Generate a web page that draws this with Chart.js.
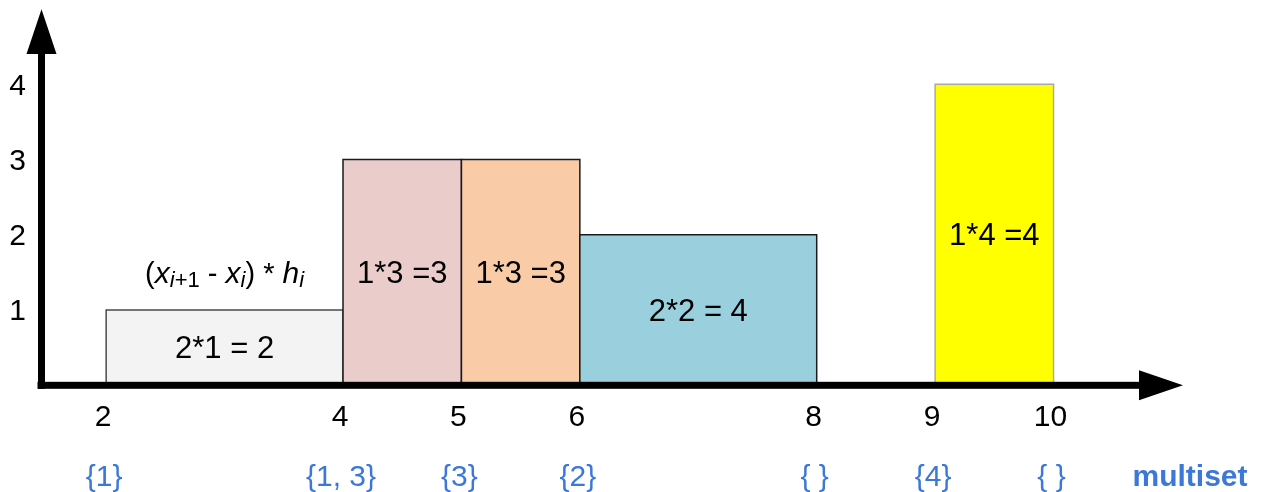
<!DOCTYPE html>
<html>
<head>
<meta charset="utf-8">
<script src="https://cdn.jsdelivr.net/npm/chart.js@4.4.1/dist/chart.umd.min.js"></script>
<style>
  html, body { margin: 0; padding: 0; background: #ffffff; }
  #wrap { width: 1264px; height: 492px; }
</style>
</head>
<body>
<div id="wrap"><canvas id="c" width="1264" height="492"></canvas></div>
<script>
// ---- data ----
const xBreaks = [2, 4, 5, 6, 8, 9, 10];
const heights = [1, 3, 3, 2, 0, 4];
const areaLabels = ['2*1 = 2', '1*3 =3', '1*3 =3', '2*2 = 4', '', '1*4 =4'];
const xTickLabels = ['2', '4', '5', '6', '8', '9', '10'];
const multisetLabels = ['{1}', '{1, 3}', '{3}', '{2}', '{ }', '{4}', '{ }'];
const yTickValues = [1, 2, 3, 4];
const yTickLabels = ['1', '2', '3', '4'];
const axisTitle = 'multiset';

// ---- styles ----
const fills = ['#f3f3f3', '#eacdcb', '#f9cba7', '#9ad0dd', '#ffffff', '#ffff00'];
const borders = ['#4a4a4a', '#1a1a1a', '#1a1a1a', '#1a1a1a', '#b0b0b0', '#aaaaaa'];
const FONT = '"Liberation Sans", Arial, sans-serif';
const BLUE = '#3c78d8';

const datasets = heights.map((h, i) => ({
  data: [
    { x: xBreaks[i], y: 0 },
    { x: xBreaks[i], y: h },
    { x: xBreaks[i + 1], y: h },
    { x: xBreaks[i + 1], y: 0 }
  ],
  backgroundColor: fills[i],
  borderColor: borders[i],
  borderWidth: 1.5,
  fill: 'origin',
  tension: 0,
  pointRadius: 0,
  order: heights.length - i
}));

const decor = {
  id: 'decor',
  afterDraw(chart) {
    const { ctx, chartArea: a, scales: { x, y } } = chart;
    ctx.save();
    // axes
    ctx.fillStyle = '#000';
    const axY = a.bottom, axX = a.left;
    ctx.fillRect(axX - 4, axY - 3.5, 1139 - (axX - 4), 7);
    ctx.beginPath();
    ctx.moveTo(1139, axY - 15); ctx.lineTo(a.right - 2, axY); ctx.lineTo(1139, axY + 15); ctx.closePath(); ctx.fill();
    ctx.fillRect(axX - 3.5, 53, 7, axY + 3.5 - 53);
    ctx.beginPath();
    ctx.moveTo(axX - 15, 54); ctx.lineTo(axX, a.top - 1); ctx.lineTo(axX + 15, 54); ctx.closePath(); ctx.fill();

    ctx.textAlign = 'center';
    ctx.textBaseline = 'middle';
    // y tick labels
    ctx.font = '30px ' + FONT;
    yTickValues.forEach((v, i) => {
      ctx.fillText(yTickLabels[i], a.left - 24, y.getPixelForValue(v) + 2);
    });
    // x tick labels & multisets
    xBreaks.forEach((v, i) => {
      const px = x.getPixelForValue(v);
      ctx.fillStyle = '#000';
      ctx.font = '30px ' + FONT;
      ctx.fillText(xTickLabels[i], px - 3, a.bottom + 32);
      ctx.fillStyle = BLUE;
      ctx.fillText(multisetLabels[i], px - 2, a.bottom + 92);
    });
    ctx.font = 'bold 30px ' + FONT;
    ctx.fillStyle = BLUE;
    ctx.fillText(axisTitle, 1190, a.bottom + 92);

    // area labels
    ctx.fillStyle = '#000';
    ctx.font = '31px ' + FONT;
    heights.forEach((h, i) => {
      if (!areaLabels[i]) return;
      const cx = x.getPixelForValue((xBreaks[i] + xBreaks[i + 1]) / 2);
      const cy = y.getPixelForValue(h / 2);
      ctx.fillText(areaLabels[i], cx, cy + 2);
    });

    // formula (x_{i+1} - x_i) * h_i
    const segs = [
      ['(', 'n'], ['x', 'i'], ['i', 'si'], ['+1', 's'], [' - ', 'n'], ['x', 'i'],
      ['i', 'si'], [') * ', 'n'], ['h', 'i'], ['i', 'si']
    ];
    const fontOf = t => t === 'n' ? '29px ' + FONT : t === 'i' ? 'italic 30px ' + FONT
      : t === 'si' ? 'italic 22px ' + FONT : '22px ' + FONT;
    let total = 0;
    segs.forEach(([s, t]) => { ctx.font = fontOf(t); total += ctx.measureText(s).width; });
    const fx = x.getPixelForValue((xBreaks[0] + xBreaks[1]) / 2);
    const fy = y.getPixelForValue(heights[0] + 0.5) + 11;
    let cur = fx - total / 2;
    ctx.textAlign = 'left';
    ctx.textBaseline = 'alphabetic';
    segs.forEach(([s, t]) => {
      ctx.font = fontOf(t);
      const dy = (t === 's' || t === 'si') ? 4 : 0;
      ctx.fillText(s, cur, fy + dy);
      cur += ctx.measureText(s).width;
    });
    ctx.restore();
  }
};

new Chart(document.getElementById('c'), {
  type: 'line',
  data: { datasets },
  options: {
    responsive: false,
    animation: false,
    events: [],
    layout: { padding: { left: 41.5, right: 79, top: 10.3, bottom: 106.7 } },
    scales: {
      x: { type: 'linear', min: 1.454, max: 11.11, display: false },
      y: { type: 'linear', min: 0, max: 4.984, display: false }
    },
    plugins: { legend: { display: false }, tooltip: { enabled: false } }
  },
  plugins: [decor]
});
</script>
</body>
</html>
